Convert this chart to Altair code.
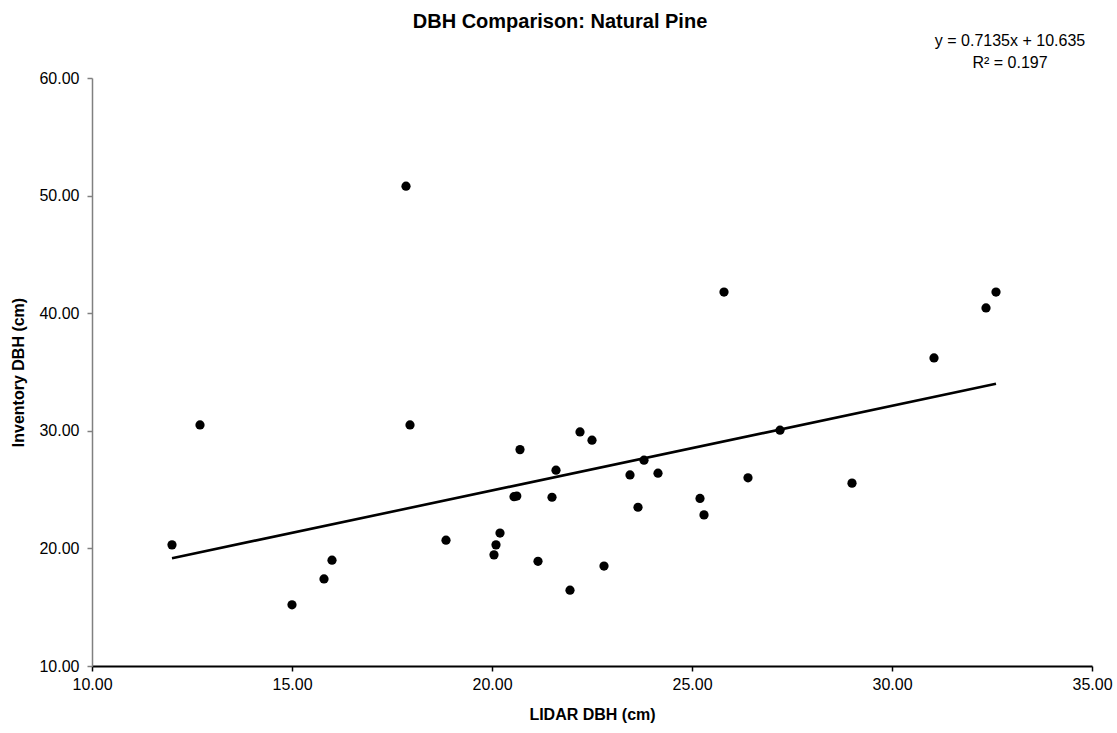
import altair as alt
import pandas as pd

# LIDAR-estimated DBH (cm) vs inventory DBH (cm), natural pine
lidar = [12.0, 12.7, 15.0, 15.8, 16.0, 17.85, 17.95, 18.85, 20.05, 20.1, 20.2,
         20.55, 20.62, 20.7, 21.15, 21.5, 21.6, 21.95, 22.2, 22.5, 22.8, 23.45,
         23.65, 23.8, 24.15, 25.2, 25.3, 25.8, 26.4, 27.2, 29.0, 31.05, 32.35, 32.6]
inventory = [20.3, 30.5, 15.2, 17.4, 19.0, 50.8, 30.5, 20.7, 19.45, 20.3, 21.3,
             24.4, 24.45, 28.4, 18.9, 24.35, 26.65, 16.45, 29.9, 29.2, 18.5, 26.25,
             23.5, 27.5, 26.4, 24.25, 22.85, 41.8, 26.0, 30.05, 25.55, 36.2, 40.45, 41.8]

x_ticks = [10, 15, 20, 25, 30, 35]
y_ticks = [10, 20, 30, 40, 50, 60]
title_text = ["DBH Comparison: Natural Pine"]
equation = ["y = 0.7135x + 10.635"]
r_squared = ["R\u00b2 = 0.197"]

FONT = "Liberation Sans"

df = pd.DataFrame({"lidar": lidar, "inventory": inventory})

x_enc = alt.X(
    "lidar:Q",
    scale=alt.Scale(domain=[10, 35], nice=False, zero=False),
    axis=alt.Axis(
        values=x_ticks, format=".2f", title="LIDAR DBH (cm)", grid=False,
        domainColor="black", domainWidth=2, tickColor="black", tickWidth=1.5,
        tickSize=5, labelFontSize=16, labelPadding=5, labelFont=FONT,
        labelFlush=False, labelColor="black", titleFont=FONT, titleFontSize=16,
        titleFontWeight="bold", titleColor="black", titlePadding=14,
    ),
)
y_enc = alt.Y(
    "inventory:Q",
    scale=alt.Scale(domain=[10, 60], nice=False, zero=False),
    axis=alt.Axis(
        values=y_ticks, format=".2f", title="Inventory DBH (cm)", grid=False,
        domainColor="#808080", domainWidth=1.5, tickColor="#808080", tickWidth=1.5,
        tickSize=5, labelFontSize=16, labelPadding=8, labelFont=FONT,
        labelFlush=False, labelColor="black", titleFont=FONT, titleFontSize=16,
        titleFontWeight="bold", titleColor="black", titlePadding=12,
    ),
)

points = alt.Chart(df).mark_circle(size=85, color="black", opacity=1).encode(
    x=x_enc, y=y_enc
)

trend = (
    alt.Chart(df)
    .transform_regression("lidar", "inventory")
    .mark_line(color="black", strokeWidth=2.6)
    .encode(x="lidar:Q", y="inventory:Q")
)

title = alt.Chart(pd.DataFrame({"t": title_text})).mark_text(
    font=FONT, fontSize=20, fontWeight="bold", color="black",
    align="center", baseline="alphabetic"
).encode(text="t:N", x=alt.value(468), y=alt.value(-50))

eq1 = alt.Chart(pd.DataFrame({"t": equation})).mark_text(
    font=FONT, fontSize=16, color="black", align="center", baseline="middle"
).encode(text="t:N", x=alt.value(918), y=alt.value(-37))

eq2 = alt.Chart(pd.DataFrame({"t": r_squared})).mark_text(
    font=FONT, fontSize=16, color="black", align="center", baseline="middle"
).encode(text="t:N", x=alt.value(918), y=alt.value(-15))

chart = (
    alt.layer(points, trend, title, eq1, eq2)
    .properties(
        width=1000,
        height=588,
        autosize="none",
        padding={"left": 92, "top": 78, "right": 25, "bottom": 67},
    )
    .configure_view(stroke=None)
)

chart.save("out.html", embed_options={"renderer": "svg", "actions": False})
